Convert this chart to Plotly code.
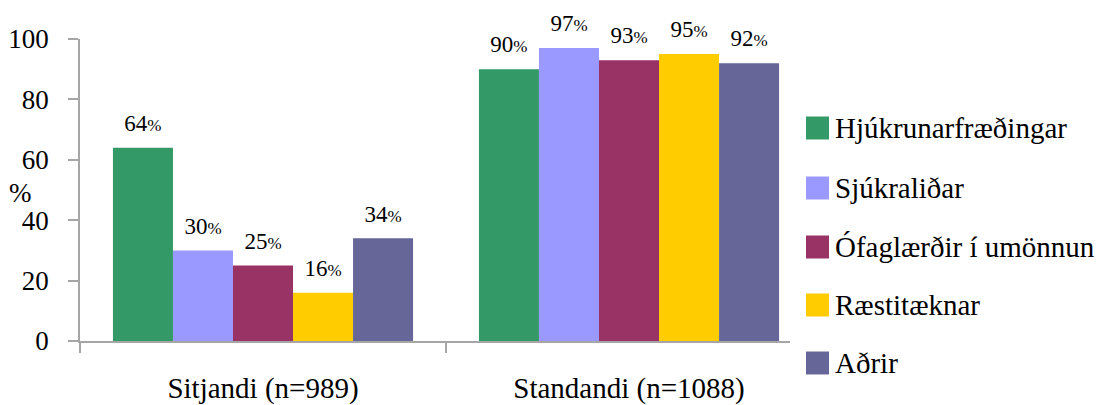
import plotly.graph_objects as go

# Share of staff in each group, by working posture
categories = ["Sitjandi (n=989)", "Standandi (n=1088)"]
groups = ["Hjúkrunarfræðingar", "Sjúkraliðar", "Ófaglærðir í umönnun", "Ræstitæknar", "Aðrir"]
values = {
    "Hjúkrunarfræðingar": [64, 90],
    "Sjúkraliðar": [30, 97],
    "Ófaglærðir í umönnun": [25, 93],
    "Ræstitæknar": [16, 95],
    "Aðrir": [34, 92],
}
colors = ["#339966", "#9999FF", "#993366", "#FFCC00", "#666699"]
y_ticks = [0, 20, 40, 60, 80, 100]

FONT = "Liberation Serif"
W, H = 1101, 405
L, R, T, B = 80, 812, 39, 341  # plot area in pixels

def px_x(p):
    return (p - L) / (R - L)

def px_y(p):
    return (B - p) / (B - T)

fig = go.Figure()
for name, col in zip(groups, colors):
    vals = values[name]
    # value label with a smaller percent sign and a thin spacer line under it
    labels = [
        f"<span style='font-size:23px'>{v}</span><span style='font-size:17px'>%</span><br>&nbsp;"
        for v in vals
    ]
    fig.add_trace(go.Bar(
        name=name, x=categories, y=vals, marker=dict(color=col, line=dict(width=0)),
        text=labels, texttemplate="%{text}", textposition="outside",
        textfont=dict(family=FONT, size=9, color="black"),
        cliponaxis=False, showlegend=False, hoverinfo="skip",
    ))

shapes = []
annotations = []
# Legend drawn as large swatches with text
leg_y = [128, 188, 247, 305, 363]
for name, col, cy in zip(groups, colors, leg_y):
    shapes.append(dict(type="rect", xref="paper", yref="paper",
                       x0=px_x(806), x1=px_x(829), y0=px_y(cy + 11.5), y1=px_y(cy - 11.5),
                       fillcolor=col, line=dict(width=0), layer="above"))
    annotations.append(dict(xref="paper", yref="paper", x=px_x(833), y=px_y(cy),
                            text=name, showarrow=False, xanchor="left", yanchor="middle",
                            font=dict(family=FONT, size=29, color="black")))

# Legend box background hides the right end of the category axis
shapes.insert(0, dict(type="rect", xref="paper", yref="paper",
                      x0=px_x(790), x1=px_x(835), y0=px_y(360), y1=px_y(330),
                      fillcolor="white", line=dict(width=0), layer="above"))

# y-axis title
annotations.append(dict(xref="paper", yref="paper", x=px_x(21), y=px_y(193),
                        text="%", showarrow=False, xanchor="center", yanchor="middle",
                        font=dict(family=FONT, size=27, color="black")))

fig.update_layout(
    width=W, height=H,
    margin=dict(l=L, r=W - R, t=T, b=H - B, pad=0, autoexpand=False),
    paper_bgcolor="white", plot_bgcolor="white",
    barmode="group", bargap=0.18, bargroupgap=0,
    font=dict(family=FONT, color="black"),
    shapes=shapes, annotations=annotations,
    showlegend=False,
)
fig.update_yaxes(
    range=[0, 100], tickvals=y_ticks, showgrid=False, zeroline=False, automargin=False,
    showline=True, linecolor="#A6A6A6", linewidth=1.5,
    ticks="outside", ticklen=10, tickcolor="#A6A6A6", tickwidth=1.5,
    ticklabelstandoff=14,
    tickfont=dict(family=FONT, size=27, color="black"),
)
fig.update_xaxes(
    showgrid=False, showline=True, linecolor="#A6A6A6", linewidth=1.5, automargin=False,
    ticks="outside", tickson="boundaries", ticklen=10, tickcolor="#A6A6A6", tickwidth=1.5,
    ticklabelstandoff=20,
    tickfont=dict(family=FONT, size=29, color="black"),
)

fig.write_html("out.html")
